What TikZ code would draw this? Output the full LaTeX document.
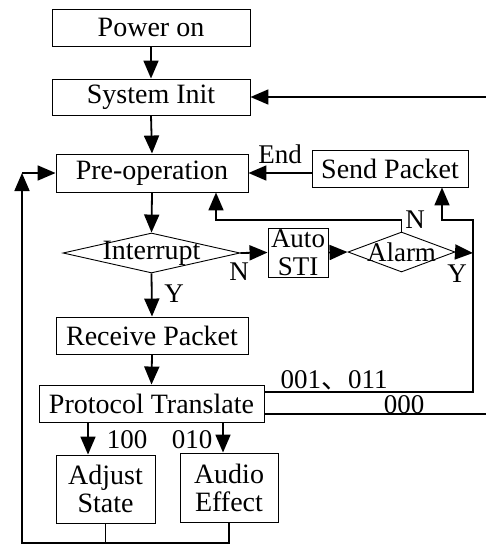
\documentclass[tikz,border=0pt]{standalone}
\usepackage{fontspec}
\setmainfont{Liberation Serif}
\newfontfamily\cjkfont{Noto Sans CJK SC}
\usetikzlibrary{arrows.meta,shapes.geometric}
\begin{document}
\begin{tikzpicture}[x=1pt,y=-1pt,
  box/.style={draw,line width=0.9pt,inner sep=0pt,font=\fontsize{28}{28}\selectfont,align=center},
  dia/.style={draw,diamond,line width=0.9pt,inner sep=0pt},
  dtext/.style={inner sep=0pt,font=\fontsize{28}{28}\selectfont},
  conn/.style={line width=1.8pt,-{Triangle[length=18pt,width=15pt]}},
  plain/.style={line width=1.8pt},
  lab/.style={font=\fontsize{27}{27}\selectfont,inner sep=0pt,anchor=base}]
\useasboundingbox (0,0) rectangle (486,544);
% boxes
\node[box,minimum width=198pt,minimum height=37pt] (power) at (151,27.5) {Power on};
\node[box,minimum width=198pt,minimum height=36pt] (init) at (151,97) {System Init};
\node[box,minimum width=192pt,minimum height=38pt] (preop) at (152,173) {Pre-operation};
\node[box,minimum width=156pt,minimum height=37pt] (send) at (390,168.5) {Send Packet};
\node[dia,minimum width=177pt,minimum height=40pt] (intr) at (151.5,253) {};
\node[dtext] (intrt) at (intr.center) {Interrupt};
\node[box,minimum width=60pt,minimum height=49pt,font=\fontsize{27}{28}\selectfont] (auto) at (298,252.5) {Auto\\STI};
\node[dia,minimum width=107pt,minimum height=40pt] (alarm) at (401.5,252) {};
\node[dtext,font=\fontsize{27}{27}\selectfont] (alarmt) at (alarm.center) {Alarm};
\node[box,minimum width=192pt,minimum height=37pt] (recv) at (152,335.5) {Receive Packet};
\node[box,minimum width=225pt,minimum height=37pt] (proto) at (151.5,403.5) {Protocol Translate};
\node[box,minimum width=99pt,minimum height=68pt] (adjust) at (105.5,489) {Adjust\\State};
\node[box,minimum width=98pt,minimum height=69pt] (audio) at (229,487.5) {Audio\\Effect};
% helper coordinates
\coordinate (bl) at (22,543);
\coordinate (tl) at (22,173);
\coordinate (nA) at (216,220);
\coordinate (rA) at (473,220);
\coordinate (sA) at (442,220);
\coordinate (rx) at (473,253);
\coordinate (y392) at (0,392);
\coordinate (r392) at (473,392);
\coordinate (y414) at (0,414);
\coordinate (far) at (500,414);
\coordinate (x88) at (88,0);
\coordinate (x223) at (223,0);
% connectors
\draw[conn] (power.south) -- (init.north);
\draw[conn] (init.south) -- (preop.north);
\draw[conn] (preop.east -| send.west) -- (preop.east);
\node[lab] at (280,163) {End};
\draw[conn] (preop.south) -- (intr.north);
\draw[conn] (intr.east) -- (auto.west);
\node[lab] at (239,280) {N};
\draw[conn] (auto.east) -- (alarm.west);
\draw[conn] (alarm.east) -- (rx);
\node[lab] at (457,282) {Y};
\draw[conn] (alarm.north) |- (nA) -- (nA |- preop.south);
\node[lab] at (415,228) {N};
\draw[conn] (intr.south) -- (recv.north);
\node[lab] at (174,302) {Y};
\draw[conn] (recv.south) -- (proto.north);
\draw[conn] (proto.east |- y392) -- (r392) -- (rA) -- (sA) -- (sA |- send.south);
\node[lab] at (334,388) {001{\cjkfont 、}011};
\draw[conn] (proto.east |- y414) -- (far) -- (far |- init.east) -- (init.east);
\node[lab] at (404,413) {000};
\draw[conn] (proto.south -| x88) -- (adjust.north -| x88);
\node[lab] at (127,448) {100};
\draw[conn] (proto.south -| x223) -- (audio.north -| x223);
\node[lab] at (192,448) {010};
\draw[plain] (adjust.south) -- (adjust.south |- bl);
\draw[conn] (audio.south) -- (audio.south |- bl) -- (bl) -- (tl);
\draw[conn] (tl) -- (preop.west);
\end{tikzpicture}
\end{document}
